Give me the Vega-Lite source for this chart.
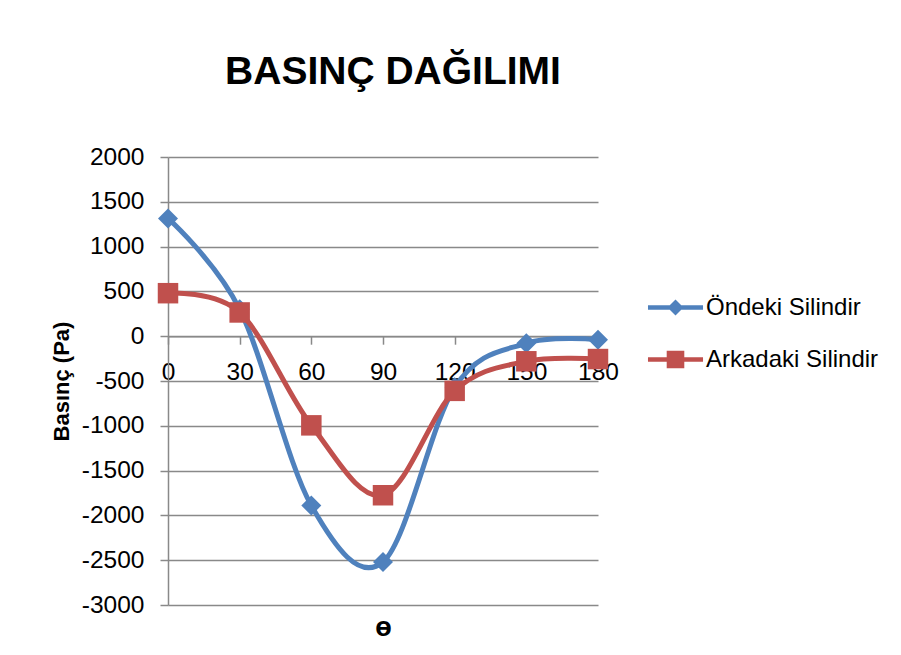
{
  "$schema": "https://vega.github.io/schema/vega-lite/v6.json",
  "width": 430,
  "height": 448,
  "autosize": "none",
  "padding": {"left": 168, "top": 157, "right": 303, "bottom": 50},
  "background": "white",
  "title": {
    "text": "BASINÇ DAĞILIMI",
    "fontSize": 39,
    "font": "Liberation Sans",
    "fontWeight": "bold",
    "color": "black",
    "anchor": "middle",
    "baseline": "alphabetic",
    "offset": 21,
    "dx": 10
  },
  "data": {
    "values": [
      {"theta": 0, "basinc": 1315, "seri": "Öndeki Silindir"},
      {"theta": 30, "basinc": 300, "seri": "Öndeki Silindir"},
      {"theta": 60, "basinc": -1890, "seri": "Öndeki Silindir"},
      {"theta": 90, "basinc": -2520, "seri": "Öndeki Silindir"},
      {"theta": 120, "basinc": -570, "seri": "Öndeki Silindir"},
      {"theta": 150, "basinc": -80, "seri": "Öndeki Silindir"},
      {"theta": 180, "basinc": -40, "seri": "Öndeki Silindir"},
      {"theta": 0, "basinc": 480, "seri": "Arkadaki Silindir"},
      {"theta": 30, "basinc": 265, "seri": "Arkadaki Silindir"},
      {"theta": 60, "basinc": -995, "seri": "Arkadaki Silindir"},
      {"theta": 90, "basinc": -1775, "seri": "Arkadaki Silindir"},
      {"theta": 120, "basinc": -610, "seri": "Arkadaki Silindir"},
      {"theta": 150, "basinc": -280, "seri": "Arkadaki Silindir"},
      {"theta": 180, "basinc": -255, "seri": "Arkadaki Silindir"}
    ]
  },
  "encoding": {
    "x": {
      "field": "theta",
      "type": "quantitative",
      "scale": {"domain": [0, 180], "nice": false},
      "axis": {
        "title": "ɵ",
        "values": [0, 30, 60, 90, 120, 150, 180],
        "labelExpr": "'' + datum.value",
        "offset": -268.8,
        "grid": false,
        "titleY": 299,
        "titleBaseline": "alphabetic",
        "titleFontSize": 27,
        "titleFontWeight": "bold",
        "labelPadding": 16,
        "labelFlush": false,
        "labelOverlap": false
      }
    },
    "y": {
      "field": "basinc",
      "type": "quantitative",
      "scale": {"domain": [-3000, 2000], "nice": false, "zero": false},
      "axis": {
        "title": "Basınç (Pa)",
        "values": [-3000, -2500, -2000, -1500, -1000, -500, 0, 500, 1000, 1500, 2000],
        "labelExpr": "'' + datum.value",
        "grid": true,
        "titleX": -107,
        "titleBaseline": "middle",
        "titleFontSize": 22,
        "titleFontWeight": "bold",
        "labelPadding": 16,
        "labelOverlap": false,
        "labelFlush": false
      }
    }
  },
  "layer": [
    {
      "transform": [{"filter": "datum.seri === 'Öndeki Silindir'"}],
      "mark": {"type": "line", "interpolate": "cardinal", "strokeWidth": 5, "color": "#4F81BD"}
    },
    {
      "transform": [{"filter": "datum.seri === 'Arkadaki Silindir'"}],
      "mark": {"type": "line", "interpolate": "cardinal", "strokeWidth": 5, "color": "#C0504D"}
    },
    {
      "transform": [{"filter": "datum.seri === 'Öndeki Silindir'"}],
      "mark": {"type": "point", "filled": true, "opacity": 1, "shape": "diamond", "size": 400, "color": "#4F81BD"}
    },
    {
      "transform": [{"filter": "datum.seri === 'Arkadaki Silindir'"}],
      "mark": {"type": "point", "filled": true, "opacity": 1, "shape": "square", "size": 420, "color": "#C0504D"}
    },
    {
      "mark": {"type": "point", "filled": true, "opacity": 0, "size": 256},
      "encoding": {
        "color": {
          "field": "seri",
          "type": "nominal",
          "scale": {"domain": ["Öndeki Silindir", "Arkadaki Silindir"], "range": ["#4F81BD", "#C0504D"]},
          "legend": {
            "title": null,
            "orient": "none",
            "legendX": 495.5,
            "legendY": 138.5,
            "labelFontSize": 24,
            "labelLimit": 400,
            "labelColor": "black",
            "labelOffset": 18.5,
            "symbolSize": 256,
            "rowPadding": 28,
            "padding": 0,
            "symbolOpacity": 1,
            "symbolStrokeWidth": 0
          }
        },
        "shape": {
          "field": "seri",
          "type": "nominal",
          "scale": {
            "domain": ["Öndeki Silindir", "Arkadaki Silindir"],
            "range": ["M-3.44,-0.28H3.44V0.28H-3.44ZM0,-1L1,0L0,1L-1,0Z", "M-3.44,-0.28H3.44V0.28H-3.44ZM-1.1,-1.1H1.1V1.1H-1.1Z"]
          },
          "legend": {
            "title": null,
            "orient": "none",
            "legendX": 495.5,
            "legendY": 138.5,
            "labelFontSize": 24,
            "labelLimit": 400,
            "labelColor": "black",
            "labelOffset": 18.5,
            "symbolSize": 256,
            "rowPadding": 28,
            "padding": 0,
            "symbolOpacity": 1,
            "symbolStrokeWidth": 0
          }
        }
      }
    }
  ],
  "config": {
    "font": "Liberation Sans",
    "view": {"stroke": null},
    "axis": {
      "labelFont": "Liberation Sans",
      "labelFontSize": 24.5,
      "labelColor": "black",
      "titleColor": "black",
      "titleFont": "Liberation Sans",
      "domainColor": "#898989",
      "domainWidth": 1.5,
      "tickColor": "#898989",
      "tickWidth": 1.5,
      "tickSize": 8,
      "gridColor": "#898989",
      "gridWidth": 1.5
    },
    "legend": {"labelFont": "Liberation Sans"}
  }
}
